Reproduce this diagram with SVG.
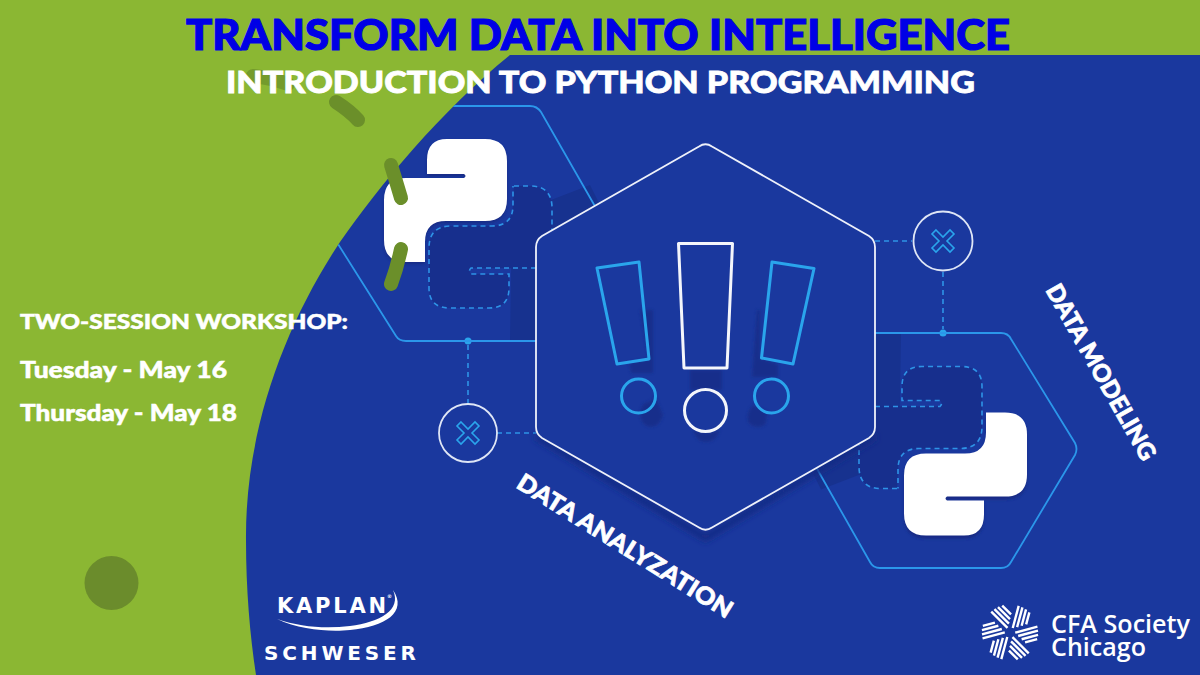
<svg xmlns="http://www.w3.org/2000/svg" width="1200" height="675" viewBox="0 0 1200 675">
<style>
.hex{fill:none;stroke:#2b97ea;stroke-width:1.8}
.dash{fill:none;stroke:#2e93e6;stroke-width:1.6;stroke-dasharray:5 4}
.cyan{fill:none;stroke:#2aa5ec;stroke-width:3;stroke-linejoin:round}
.wht{fill:none;stroke:#f4f6fb;stroke-width:3;stroke-linejoin:round}
.shade{fill:#142c84;opacity:.7;filter:url(#b2)}
.arc{fill:none;stroke:#6b8f2a;stroke-width:14;stroke-linecap:round}
.head{font-family:"Lato","Liberation Sans",sans-serif;font-weight:900}
.side{font-family:"Lato","Liberation Sans",sans-serif;font-weight:900;fill:#fff;stroke:#fff;stroke-width:.5}
.lab{font-family:"Lato","Liberation Sans",sans-serif;font-weight:900;fill:#fff;stroke:#fff;stroke-width:.7}
.cfa{font-family:"Open Sans","Liberation Sans",sans-serif;font-weight:600;fill:#fff;font-size:25px}
.kap{font-family:"DejaVu Sans","Liberation Sans",sans-serif;font-weight:700;fill:#fff}
</style>
<defs>
<filter id="b4" x="-30%" y="-30%" width="160%" height="160%"><feGaussianBlur stdDeviation="3"/></filter>
<filter id="b2" x="-20%" y="-20%" width="140%" height="140%"><feGaussianBlur stdDeviation="1.6"/></filter>
<clipPath id="blueClip"><path d="M510 55H1200V675H256C250 635 246 590 246 540C245 430 285 325 340 242C380 185 440 112 510 55Z"/></clipPath>
<g id="pyback">
<polygon points="512,215 590,185 600,205 536,240 536,341 510,341" fill="#17328f"/>
<path d="M514 186H530Q552 186 552 208V268H471Q468 271 471 274H509V288Q509 308 489 308H450Q429 308 429 288V248Q429 226 451 226H492Q513 226 513 205Z" fill="#172f8d"/>
<path class="dash" d="M514 186H530Q552 186 552 208V235M536 268H471Q468 271 471 274H509V288Q509 308 489 308H450Q429 308 429 288V248Q429 226 451 226H492Q513 226 513 205V186"/>
</g>
<path id="pywhite" d="M447 139H485Q507 139 507 161V199Q507 221 485 221H446Q425 221 425 242V262H406Q384 262 384 240V200Q384 178 406 178H464Q467 176 464 174H427V160Q427 139 447 139Z"/>
<path id="xmark" d="M-7 -11L0 -4L7 -11L11 -7L4 0L11 7L7 11L0 4L-7 11L-11 7L-4 0L-11 -7Z"/>
<g id="petal" fill="none" stroke="#fff" stroke-width="2.400">
<path d="M1.500 -5L1.500 -28M5.500 -7L5.500 -27.500M9.500 -9.500L9.500 -26.500M13.500 -12L13.500 -24.500"/>
</g>
</defs>

<rect width="1200" height="675" fill="#8bb733"/>
<path id="blue-field" d="M510 55H1200V675H256C250 635 246 590 246 540C245 430 285 325 340 242C380 185 440 112 510 55Z" fill="#1a389e"/>

<g id="connectors">
<path class="dash" d="M468 345V403M497 433H536M875 241H912M943 272V329"/>
<circle cx="468" cy="341" r="3.500" fill="#2aa5ec"/>
<circle cx="943" cy="333" r="3.500" fill="#2aa5ec"/>
</g>

<g id="hex-left" clip-path="url(#blueClip)">
<path d="M400 346H536" stroke="#142c84" stroke-width="8" filter="url(#b4)" fill="none"/>
<use href="#pyback"/>
<path class="hex" d="M360 106H530Q537 106 541 112L600 215M326 225L396 336Q399 341 406 341H540"/>
<use href="#pywhite" fill="#142c84" transform="translate(0 2)" filter="url(#b2)"/>
<use href="#pywhite" fill="#fff"/>
</g>

<g id="hex-right">
<path d="M880 573H1005" stroke="#142c84" stroke-width="8" filter="url(#b4)" fill="none"/>
<use href="#pyback" transform="translate(1411 674.500) rotate(180)"/>
<path class="hex" d="M870 333H1001Q1008 333 1011 339L1075 443Q1078 449 1075 455L1011 562Q1008 568 1001 568H880Q873 568 870 562L812 460"/>
<use href="#pywhite" fill="#142c84" transform="translate(1411 677.500) rotate(180)" filter="url(#b2)"/>
<use href="#pywhite" fill="#fff" transform="translate(1411 674.500) rotate(180)"/>
</g>

<g id="hex-main">
<path d="M536 436L705.500 538L875 436" fill="none" stroke="#142c84" stroke-width="7" filter="url(#b4)"/>
<path d="M699 146.500Q705.500 142 712 146.500L869 236Q875 240 875 247V427Q875 434 869 438L712 527.500Q705.500 532 699 527.500L542 438Q536 434 536 427V247Q536 240 542 236Z" fill="#1a389e" stroke="#eef1fa" stroke-width="1.800"/>
<g class="shades">
<path class="shade" d="M640 310H653V373H631L629 362L649 359Z"/>
<path class="shade" d="M643 404Q655 400 655 396L663 415Q660 427 650 427Q640 425 640 412Z"/>
<path class="shade" d="M690 370H722V390H690Z"/>
<path class="shade" d="M693 430Q705 436 720 430Q716 442 706 442Q696 442 693 430Z"/>
<path class="shade" d="M757 310H760L760 358L778 364V377H752Z"/>
<path class="shade" d="M753 405L768 412L765 425Q755 430 748 422Q746 412 753 405Z"/>
</g>
<path class="cyan" d="M597 268L639 262L649 359L617 364Z"/>
<circle class="cyan" cx="638.500" cy="396" r="17"/>
<path class="wht" d="M678.500 243.500H732.500L727 368H684Z"/>
<circle class="wht" cx="705.500" cy="410.500" r="21"/>
<path class="cyan" d="M772 262L814 268.500L793 364L761.500 358Z"/>
<circle class="cyan" cx="771.500" cy="396" r="17"/>
</g>

<g id="node-x-left">
<circle cx="468" cy="433" r="29" fill="#1a389e" stroke="#dfe6f6" stroke-width="1.800"/>
<use href="#xmark" x="468" y="433" fill="none" stroke="#2aa5ec" stroke-width="1.600"/>
</g>
<g id="node-x-right">
<circle cx="943" cy="241" r="29.500" fill="#1a389e" stroke="#dfe6f6" stroke-width="1.800"/>
<use href="#xmark" x="943" y="241" fill="none" stroke="#2aa5ec" stroke-width="1.600"/>
</g>

<g id="accents">
<path class="arc" d="M253 76Q272 78 288 84" opacity=".7" stroke-width="10"/>
<path class="arc" d="M336 102Q350 111 358 120"/>
<path class="arc" d="M391 165Q396 181 401 198"/>
<path class="arc" d="M401 249Q397 268 391 284"/>
<circle cx="111.500" cy="583" r="27" fill="#6b8c2c"/>
</g>

<g id="title">
<text class="head" x="186" y="50" font-size="42" fill="#0000e6" stroke="#0000e6" stroke-width="1.200" textLength="824" lengthAdjust="spacingAndGlyphs">TRANSFORM DATA INTO INTELLIGENCE</text>
<text class="head" x="226" y="93" font-size="31" fill="#fff" stroke="#fff" stroke-width=".8" textLength="749" lengthAdjust="spacingAndGlyphs">INTRODUCTION TO PYTHON PROGRAMMING</text>
</g>

<g id="schedule">
<text class="side" x="20" y="329" font-size="20" textLength="328" lengthAdjust="spacingAndGlyphs">TWO-SESSION WORKSHOP:</text>
<text class="side" x="20" y="378" font-size="22" textLength="207" lengthAdjust="spacingAndGlyphs">Tuesday - May 16</text>
<text class="side" x="20" y="421" font-size="22" textLength="217" lengthAdjust="spacingAndGlyphs">Thursday - May 18</text>
</g>

<g id="labels">
<text class="lab" font-size="24" transform="translate(515 487) rotate(32)" textLength="249" lengthAdjust="spacingAndGlyphs">DATA ANALYZATION</text>
<text class="lab" font-size="24" transform="translate(1045 290) rotate(60.500)" textLength="198" lengthAdjust="spacingAndGlyphs">DATA MODELING</text>
</g>

<g id="logo-kaplan">
<text class="kap" x="277" y="613" font-size="21" textLength="109" lengthAdjust="spacing">KAPLAN</text>
<text class="kap" x="387" y="598" font-size="5">®</text>
<path d="M277 619C300 630 330 632 350 630C385 627 408 612 393 590C402 610 380 622 350 626C325 629 300 627 277 619Z" fill="#fff"/>
<text class="kap" x="264" y="660" font-size="20" textLength="152" lengthAdjust="spacing">SCHWESER</text>
</g>

<g id="logo-cfa">
<g transform="translate(1010 632.500) rotate(15)">
<use href="#petal"/>
<use href="#petal" transform="rotate(60)"/>
<use href="#petal" transform="rotate(120)"/>
<use href="#petal" transform="rotate(180)"/>
<use href="#petal" transform="rotate(240)"/>
<use href="#petal" transform="rotate(300)"/>
</g>
<text class="cfa" x="1051" y="633" textLength="139" lengthAdjust="spacingAndGlyphs">CFA Society</text>
<text class="cfa" x="1051" y="656" textLength="95" lengthAdjust="spacingAndGlyphs">Chicago</text>
</g>
</svg>
